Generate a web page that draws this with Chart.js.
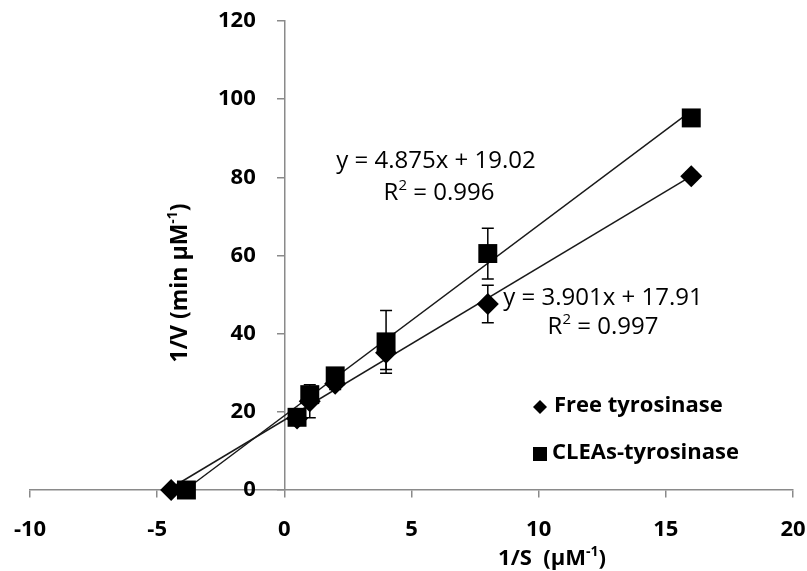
<!DOCTYPE html>
<html><head><meta charset="utf-8">
<script src="https://cdn.jsdelivr.net/npm/chart.js@4/dist/chart.umd.min.js"></script>
<style>html,body{margin:0;padding:0;background:#fff}canvas{display:block}</style>
</head><body>
<canvas id="c" width="807" height="571"></canvas>
<script>
// ---- data ----
const xTickValues = [-10, -5, 0, 5, 10, 15, 20];
const yTickValues = [0, 20, 40, 60, 80, 100, 120];

const seriesNames = ['Free tyrosinase', 'CLEAs-tyrosinase'];

const freeX   = [-4.45, 0.5, 1, 2, 4, 8, 16];
const freeY   = [0, 18.3, 22.7, 27.2, 35.1, 47.6, 80.3];
const freeErr = [0, 1.0, 4.2, 1.5, 4.3, 4.8, 1.0];

const cleaX   = [-3.85, 0.5, 1, 2, 4, 8, 16];
const cleaY   = [0, 18.6, 24.4, 29.2, 37.9, 60.5, 95.2];
const cleaErr = [0, 1.0, 1.5, 1.5, 8.0, 6.5, 1.0];

// trendline end points (from the printed equations)
const freeFitX = [-4.59, 16];
const freeFitY = [0, 80.33];
const cleaFitX = [-3.90, 16];
const cleaFitY = [0, 97.02];

const freeEquation = ['y = 3.901x + 17.91', '0.997'];
const cleaEquation = ['y = 4.875x + 19.02', '0.996'];

const xTitle = ['1/S  (\u00B5M', '-1', ')'];
const yTitle = ['1/V (min \u00B5M', '-1', ')'];

// ---- helpers ----
const pts = (xs, ys) => xs.map((x, i) => ({x: x, y: ys[i]}));
const FONT = "'Open Sans', 'Noto Sans', sans-serif";

function drawRuns(ctx, runs, cx, cy, size, weight) {
  const supSize = Math.round(size * 0.62);
  let total = 0;
  runs.forEach(r => {
    ctx.font = weight + ' ' + (r.sup ? supSize : size) + 'px ' + FONT;
    r.w = ctx.measureText(r.t).width;
    total += r.w;
  });
  let x = cx - total / 2;
  ctx.textBaseline = 'middle';
  ctx.textAlign = 'left';
  runs.forEach(r => {
    ctx.font = weight + ' ' + (r.sup ? supSize : size) + 'px ' + FONT;
    ctx.fillText(r.t, x, r.sup ? cy - size * 0.32 : cy);
    x += r.w;
  });
}

const errorBarPlugin = {
  id: 'errorBars',
  afterDatasetsDraw(chart) {
    const ctx = chart.ctx;
    const ys = chart.scales.y;
    ctx.save();
    ctx.strokeStyle = '#000';
    ctx.lineWidth = 1.5;
    chart.data.datasets.forEach((ds, di) => {
      if (!ds.errors) return;
      const meta = chart.getDatasetMeta(di);
      meta.data.forEach((el, i) => {
        const e = ds.errors[i];
        if (!e) return;
        const v = ds.data[i].y;
        const top = ys.getPixelForValue(v + e);
        const bot = ys.getPixelForValue(v - e);
        const x = el.x;
        ctx.beginPath();
        ctx.moveTo(x, top); ctx.lineTo(x, bot);
        ctx.moveTo(x - 6, top); ctx.lineTo(x + 6, top);
        ctx.moveTo(x - 6, bot); ctx.lineTo(x + 6, bot);
        ctx.stroke();
      });
    });
    ctx.restore();
  }
};

const textPlugin = {
  id: 'texts',
  afterDraw(chart) {
    const ctx = chart.ctx;
    ctx.save();
    ctx.fillStyle = '#000';
    // equations
    drawRuns(ctx, [{t: cleaEquation[0]}], 436, 161, 24, 'normal');
    drawRuns(ctx, [{t: 'R'}, {t: '2', sup: true}, {t: ' = ' + cleaEquation[1]}], 439, 193, 24, 'normal');
    drawRuns(ctx, [{t: freeEquation[0]}], 603, 298, 24, 'normal');
    drawRuns(ctx, [{t: 'R'}, {t: '2', sup: true}, {t: ' = ' + freeEquation[1]}], 603, 327, 24, 'normal');
    // x title
    drawRuns(ctx, [{t: xTitle[0]}, {t: xTitle[1], sup: true}, {t: xTitle[2]}], 552, 559, 22, 'bold');
    // y title
    ctx.save();
    ctx.translate(180, 283);
    ctx.rotate(-Math.PI / 2);
    drawRuns(ctx, [{t: yTitle[0]}, {t: yTitle[1], sup: true}, {t: yTitle[2]}], 0, 0, 23, 'bold');
    ctx.restore();
    // legend
    ctx.fillStyle = '#000';
    ctx.beginPath();
    ctx.moveTo(540 - 7, 407); ctx.lineTo(540, 400); ctx.lineTo(540 + 7, 407); ctx.lineTo(540, 414);
    ctx.closePath(); ctx.fill();
    ctx.fillRect(533, 447, 14, 14);
    ctx.font = 'bold 22px ' + FONT;
    ctx.textAlign = 'left';
    ctx.textBaseline = 'middle';
    ctx.fillText(seriesNames[0], 554, 406);
    ctx.fillText(seriesNames[1], 552, 453);
    ctx.restore();
  }
};

const tickFont = {family: FONT, size: 22, weight: 'bold'};
const noPad = s => { s.paddingLeft = 0; s.paddingRight = 0; s.paddingTop = 0; s.paddingBottom = 0; };

new Chart(document.getElementById('c'), {
  type: 'scatter',
  data: {
    datasets: [
      {
        type: 'line', label: 'fit1', data: pts(freeFitX, freeFitY),
        borderColor: '#1a1a1a', borderWidth: 1.5, pointRadius: 0, fill: false,
        order: 4, clip: false
      },
      {
        type: 'line', label: 'fit2', data: pts(cleaFitX, cleaFitY),
        borderColor: '#1a1a1a', borderWidth: 1.5, pointRadius: 0, fill: false,
        order: 3, clip: false
      },
      {
        label: seriesNames[0], data: pts(freeX, freeY), errors: freeErr,
        pointStyle: 'rectRot', pointRadius: 11, pointHoverRadius: 11,
        backgroundColor: '#000', borderColor: '#000', borderWidth: 0,
        order: 2, clip: false
      },
      {
        label: seriesNames[1], data: pts(cleaX, cleaY), errors: cleaErr,
        pointStyle: 'rect', pointRadius: 13.4, pointHoverRadius: 13.4,
        backgroundColor: '#000', borderColor: '#000', borderWidth: 0,
        order: 1, clip: false
      }
    ]
  },
  options: {
    responsive: false,
    animation: false,
    events: [],
    layout: {padding: {left: 30, right: 14, top: 21, bottom: 81}},
    plugins: {legend: {display: false}, tooltip: {enabled: false}},
    scales: {
      x: {
        type: 'linear', min: -10, max: 20, position: {y: 0},
        afterBuildTicks: s => { s.ticks = xTickValues.map(v => ({value: v})); },
        afterFit: noPad,
        grid: {drawOnChartArea: false, drawTicks: true, tickLength: 7, color: '#8a8a8a', lineWidth: 1.5},
        border: {display: true, color: '#8a8a8a', width: 1.5},
        ticks: {font: tickFont, color: '#000', padding: 20, maxRotation: 0}
      },
      y: {
        type: 'linear', min: 0, max: 120, position: {x: 0},
        afterBuildTicks: s => { s.ticks = yTickValues.map(v => ({value: v})); },
        afterFit: noPad,
        grid: {drawOnChartArea: false, drawTicks: true, tickLength: 7, color: '#8a8a8a', lineWidth: 1.5},
        border: {display: true, color: '#8a8a8a', width: 1.5},
        ticks: {font: tickFont, color: '#000', padding: 0, callback: v => v + '     '}
      }
    }
  },
  plugins: [errorBarPlugin, textPlugin]
});
</script>
</body></html>
